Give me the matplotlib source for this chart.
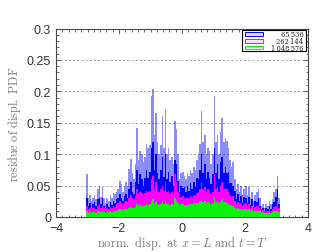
import numpy as np
import matplotlib
matplotlib.use("Agg")
import matplotlib.pyplot as plt
from matplotlib.patches import Rectangle
from matplotlib.ticker import MultipleLocator

plt.rcParams['mathtext.fontset'] = 'cm'

labels = ['65\u2009536', '262\u2009144', '1\u2009048\u2009576']
bin_start = -3.05
bin_width = 0.05

blue_hi = [0.068,0.030,0.035,0.025,0.030,0.035,0.028,0.045,0.050,0.032,
 0.048,0.030,0.022,0.030,0.025,0.035,0.030,0.038,0.036,0.040,
 0.045,0.058,0.052,0.040,0.050,0.055,0.050,0.076,0.092,0.070,
 0.060,0.085,0.142,0.090,0.105,0.100,0.088,0.095,0.116,0.110,
 0.115,0.193,0.203,0.130,0.166,0.120,0.100,0.115,0.160,0.110,
 0.172,0.100,0.110,0.090,0.095,0.085,0.153,0.140,0.100,0.060,
 0.070,0.072,0.065,0.060,0.070,0.065,0.075,0.070,0.080,0.075,
 0.090,0.100,0.116,0.169,0.120,0.130,0.100,0.110,0.105,0.085,
 0.100,0.192,0.120,0.130,0.100,0.135,0.158,0.120,0.125,0.121,
 0.110,0.090,0.080,0.087,0.060,0.045,0.052,0.040,0.050,0.035,
 0.045,0.050,0.035,0.048,0.030,0.040,0.025,0.035,0.040,0.045,
 0.030,0.018,0.020,0.015,0.020,0.018,0.025,0.020,0.028,0.040,
 0.045,0.066,0.030]

blue_lo = [0.030,0.018,0.022,0.015,0.020,0.024,0.017,0.028,0.030,0.020,
 0.030,0.018,0.014,0.020,0.016,0.024,0.019,0.026,0.022,0.028,
 0.030,0.036,0.030,0.026,0.034,0.036,0.030,0.045,0.055,0.040,
 0.036,0.055,0.075,0.052,0.068,0.060,0.050,0.062,0.075,0.062,
 0.072,0.110,0.120,0.075,0.100,0.070,0.060,0.075,0.095,0.064,
 0.100,0.060,0.072,0.055,0.065,0.050,0.090,0.085,0.058,0.040,
 0.050,0.046,0.048,0.040,0.050,0.042,0.054,0.045,0.056,0.048,
 0.062,0.060,0.075,0.100,0.070,0.085,0.060,0.072,0.062,0.052,
 0.068,0.110,0.070,0.085,0.060,0.088,0.095,0.070,0.080,0.070,
 0.072,0.054,0.054,0.050,0.042,0.028,0.036,0.026,0.034,0.022,
 0.032,0.030,0.022,0.032,0.019,0.028,0.016,0.025,0.024,0.030,
 0.018,0.012,0.015,0.010,0.015,0.012,0.018,0.013,0.020,0.024,
 0.032,0.045,0.020]

magenta = [0.018,0.012,0.015,0.012,0.014,0.016,0.013,0.018,0.020,0.014,
 0.018,0.014,0.012,0.015,0.013,0.016,0.014,0.018,0.016,0.020,
 0.022,0.025,0.022,0.020,0.024,0.026,0.024,0.030,0.035,0.030,
 0.028,0.034,0.045,0.036,0.040,0.038,0.035,0.038,0.042,0.040,
 0.042,0.060,0.065,0.045,0.055,0.042,0.040,0.045,0.050,0.042,
 0.055,0.040,0.042,0.038,0.040,0.036,0.068,0.055,0.040,0.030,
 0.032,0.034,0.030,0.030,0.032,0.030,0.034,0.032,0.035,0.034,
 0.038,0.040,0.045,0.055,0.045,0.048,0.040,0.044,0.042,0.036,
 0.040,0.068,0.045,0.048,0.040,0.050,0.055,0.045,0.046,0.044,
 0.040,0.035,0.032,0.034,0.026,0.022,0.024,0.020,0.022,0.018,
 0.020,0.022,0.018,0.020,0.015,0.018,0.013,0.016,0.018,0.018,
 0.014,0.010,0.011,0.009,0.010,0.010,0.012,0.010,0.013,0.016,
 0.018,0.025,0.014]

green = [0.009,0.007,0.008,0.007,0.008,0.008,0.007,0.009,0.009,0.008,
 0.009,0.008,0.007,0.008,0.008,0.009,0.008,0.009,0.009,0.010,
 0.011,0.012,0.012,0.011,0.012,0.013,0.012,0.014,0.016,0.015,
 0.014,0.016,0.020,0.017,0.019,0.018,0.017,0.018,0.020,0.019,
 0.020,0.026,0.028,0.021,0.024,0.020,0.019,0.021,0.024,0.020,
 0.025,0.020,0.021,0.019,0.020,0.019,0.030,0.026,0.022,0.018,
 0.020,0.021,0.019,0.019,0.020,0.019,0.021,0.020,0.022,0.021,
 0.022,0.023,0.025,0.028,0.024,0.025,0.022,0.024,0.023,0.020,
 0.022,0.032,0.024,0.025,0.022,0.026,0.028,0.024,0.024,0.023,
 0.021,0.019,0.018,0.018,0.015,0.013,0.014,0.012,0.013,0.011,
 0.012,0.012,0.011,0.012,0.010,0.011,0.009,0.010,0.010,0.010,
 0.009,0.007,0.008,0.007,0.007,0.007,0.008,0.007,0.008,0.009,
 0.010,0.012,0.008]

xticks = [-4, -2, 0, 2, 4]
xtick_labels = ['\u22124', '\u22122', '0', '2', '4']
yticks = [0, 0.05, 0.1, 0.15, 0.2, 0.25, 0.3]
ytick_labels = ['0', '0.05', '0.1', '0.15', '0.2', '0.25', '0.3']

edges = bin_start + bin_width * np.arange(len(blue_hi) + 1)

fig = plt.figure(figsize=(3.16, 2.53), dpi=100)
ax = fig.add_axes([56/316, 35/253, 252/316, 188.5/253])

BLUE = (0, 0, 1)
MAG = (1, 0, 1)
GRN = (0.05, 0.95, 0.05)
colors = [BLUE, MAG, GRN]

ax.stairs(blue_hi, edges, fill=True, color=BLUE, alpha=0.45, lw=0, zorder=2)
ax.stairs(blue_lo, edges, fill=True, color=BLUE, lw=0, zorder=3)
ax.stairs(magenta, edges, fill=True, color=MAG, lw=0, zorder=4)
ax.stairs(green, edges, fill=True, color=GRN, lw=0, zorder=5)

ax.set_xlim(-4, 4)
ax.set_ylim(0, 0.3)
ax.set_xticks(xticks)
ax.set_xticklabels(xtick_labels)
ax.set_yticks(yticks)
ax.set_yticklabels(ytick_labels)
ax.xaxis.set_minor_locator(MultipleLocator(0.2))
ax.yaxis.set_minor_locator(MultipleLocator(0.01))

ax.tick_params(which='both', direction='in', top=True, right=True, colors='#555555',
               labelcolor='#333333', labelsize=9, width=0.6)
ax.tick_params(which='major', length=3.5)
ax.tick_params(which='minor', length=1.8)
for lab in ax.get_xticklabels() + ax.get_yticklabels():
    lab.set_family('Liberation Sans')
for s in ax.spines.values():
    s.set_color('#444444')
    s.set_linewidth(0.8)

for yv in [0.05, 0.1, 0.15, 0.2, 0.25]:
    ax.axhline(yv, color='#999999', lw=0.6, ls=(0, (2.5, 2.5)), zorder=1)

ax.set_xlabel(r'$\mathrm{norm.\ disp.\ at}\ x = L\ \mathrm{and}\ t = T$',
              fontsize=9, color='#777777', labelpad=0)
ax.set_ylabel(r'$\mathrm{residue\ of\ displ.\ PDF}$', fontsize=8.8, color='#777777', labelpad=3)

# legend (drawn in axes-fraction coordinates)
tr = ax.transAxes
ax.add_patch(Rectangle((0.738, 0.881), 0.254, 0.110, transform=tr, facecolor='white',
                       edgecolor='black', lw=0.8, zorder=10))
row_y = [0.971, 0.935, 0.899]
for col, lab, yy in zip(colors, labels, row_y):
    ax.add_patch(Rectangle((0.750, yy - 0.010), 0.072, 0.020, transform=tr,
                           facecolor=(*col, 0.12), edgecolor=col, lw=0.7, zorder=11))
    ax.text(0.982, yy, lab, transform=tr, ha='right', va='center', fontsize=4.8,
            family='DejaVu Serif', color='#222222', zorder=12)

fig.savefig('out.png', dpi=100)
